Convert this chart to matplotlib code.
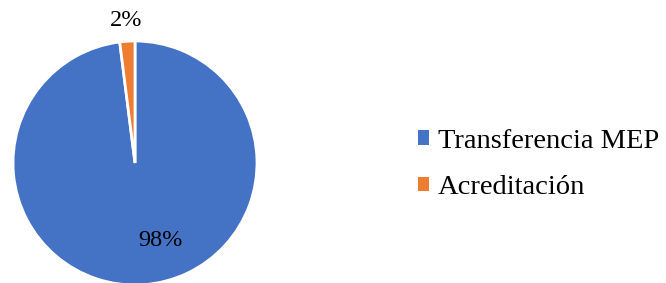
import matplotlib.pyplot as plt
from matplotlib.patches import Patch

# data
labels = ['Transferencia MEP', 'Acreditación']
values = [98, 2]
pct_text = ['98%', '2%']
colors = ['#4472C4', '#ED7D31']

plt.rcParams['font.family'] = ['Liberation Serif', 'DejaVu Serif']

W, H = 666, 283
fig = plt.figure(figsize=(W / 100, H / 100), dpi=100)
ax = fig.add_axes([0, 0, 1, 1])

# pie drawn in pixel-like data units
wedges, _ = ax.pie(values, colors=colors, startangle=90, counterclock=False,
                   center=(135, H - 163), radius=122, frame=True,
                   wedgeprops=dict(edgecolor='white', linewidth=2))
ax.set_xlim(0, W)
ax.set_ylim(0, H)
ax.set_aspect('equal')
ax.axis('off')

# percentage labels
ax.text(160, H - 240, pct_text[0], ha='center', va='center', fontsize=17.5, color='black')
ax.text(126, H - 20, pct_text[1], ha='center', va='center', fontsize=17.5, color='black')

# legend
handles = [Patch(facecolor=c, edgecolor='none') for c in colors]
fig.legend(handles, labels, loc='center left', bbox_to_anchor=(418 / W, 1 - 164.5 / H),
           frameon=False, fontsize=20.5, handlelength=0.4, handleheight=0.4,
           handletextpad=0.3, labelspacing=0.75, borderpad=0, borderaxespad=0)

plt.savefig('out.png', dpi=100)
